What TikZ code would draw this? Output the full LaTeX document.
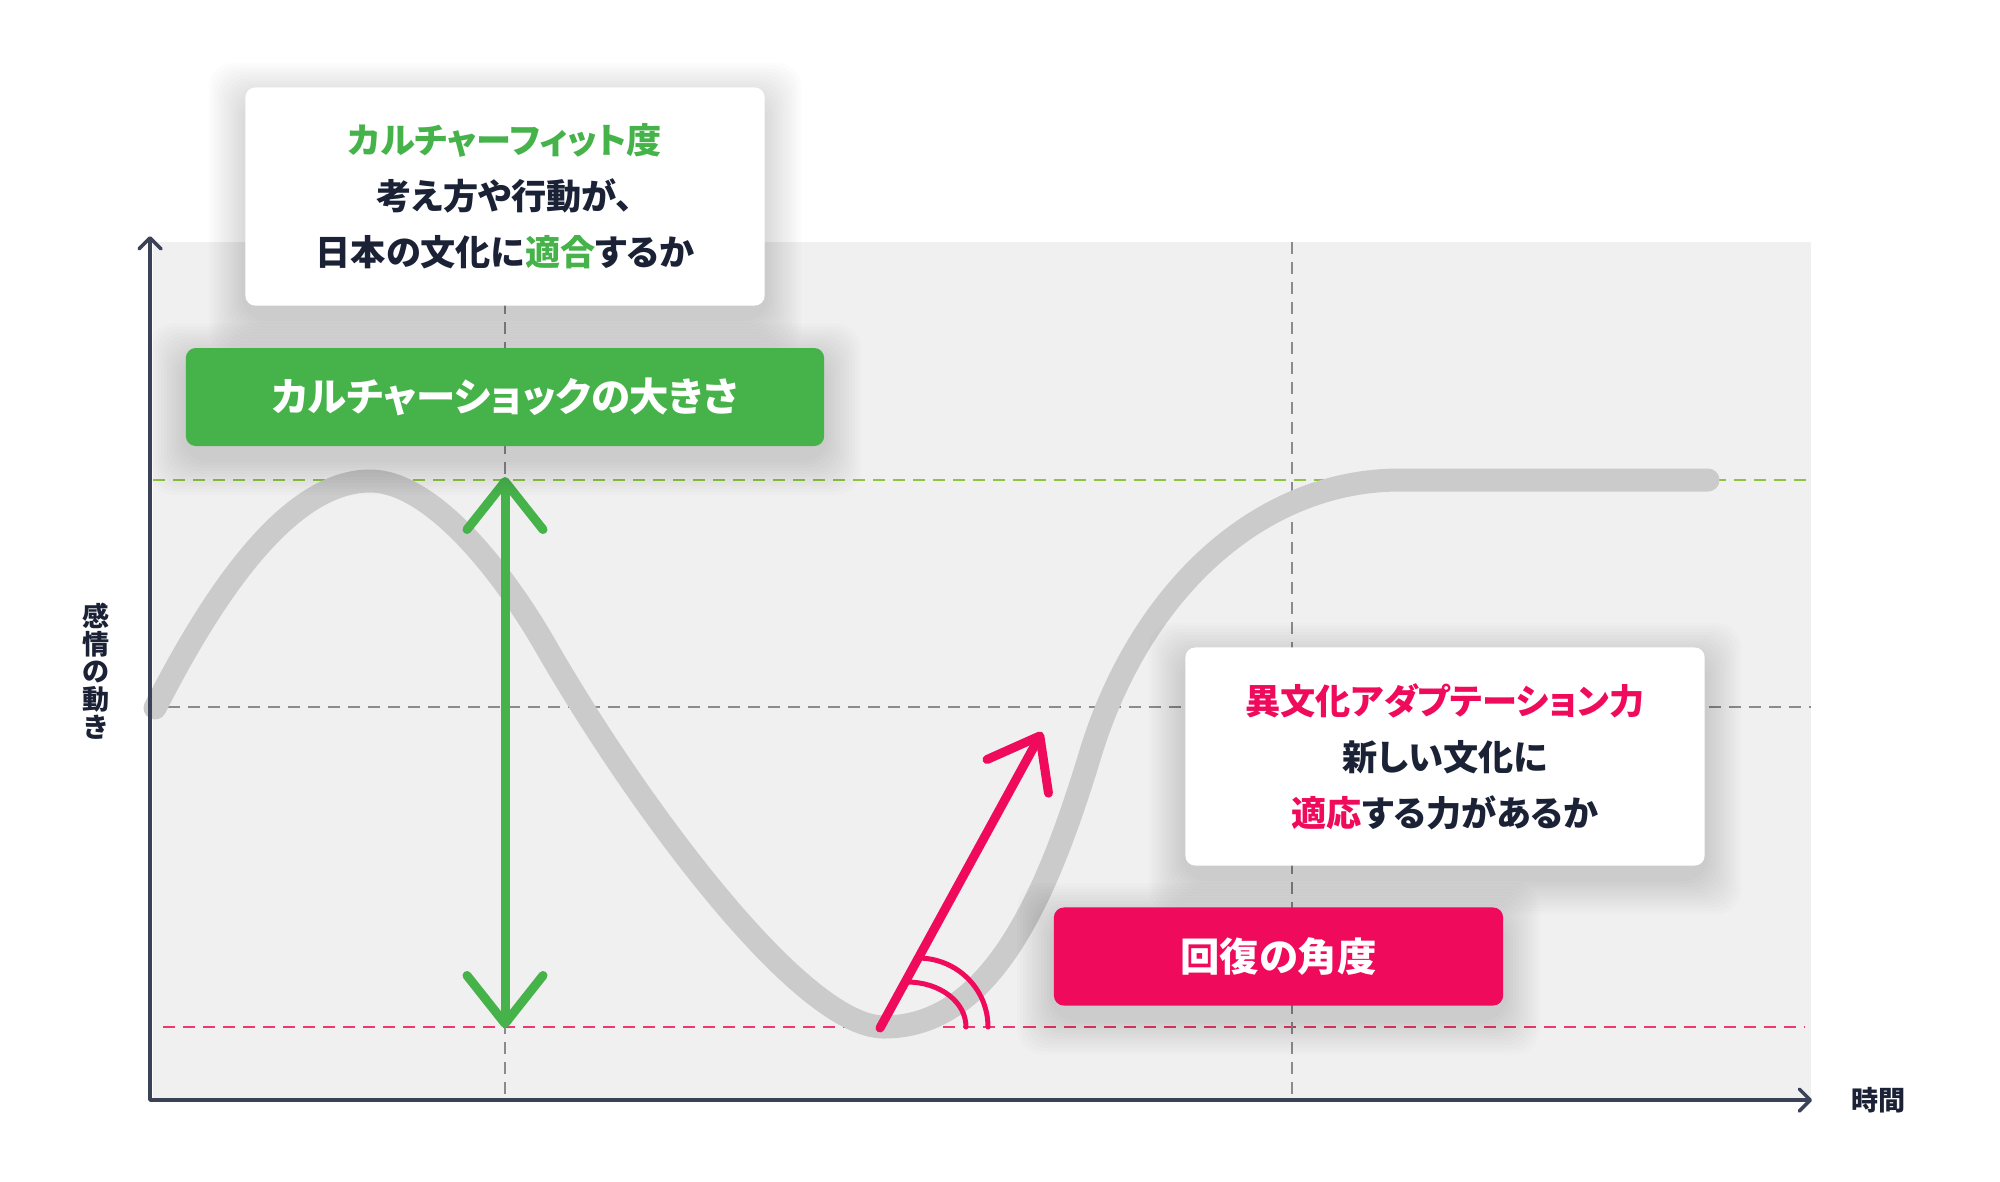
\documentclass[tikz,border=0pt]{standalone}
\usepackage{fontspec}
\setmainfont{Noto Sans CJK JP}[RawFeature=+palt]
\usetikzlibrary{arrows.meta,positioning}
\pgfdeclarelayer{shade}
\pgfdeclarelayer{front}
\pgfsetlayers{main,shade,front}
\definecolor{fitgreen}{HTML}{46B34A}
\definecolor{adaptpink}{HTML}{EF0A5B}
\definecolor{inkdark}{HTML}{1B2236}
\definecolor{axisgray}{HTML}{3B4257}
\definecolor{panelgray}{HTML}{F0F0F0}
\definecolor{curvegray}{HTML}{CBCBCB}
\definecolor{guidegray}{HTML}{8A8A90}
\definecolor{guidegreen}{HTML}{8DC540}
\definecolor{guidepink}{HTML}{EC3A6E}
\tikzset{
infobox/.style={fill=white,rounded corners=0.1cm,minimum width=5.19cm,minimum height=2.18cm,align=center,inner sep=0pt,text=inkdark,font=\fontsize{10}{15.9}\selectfont\bfseries},
tagbox/.style={rounded corners=0.1cm,minimum height=0.98cm,inner sep=0pt,text=white,font=\fontsize{11.2}{13}\selectfont\bfseries},
softshade/.style={black,opacity=0.011,rounded corners=0.25cm},
axisline/.style={axisgray,line width=1pt,line join=round,{Straight Barb[round,length=1.1mm,width=2.2mm]}-{Straight Barb[round,length=1.1mm,width=2.2mm]}},
guide/.style={line width=0.6pt,dash pattern=on 0.12cm off 0.08cm},
curveline/.style={curvegray,line width=0.23cm,line cap=round,line join=round},
shockarrow/.style={fitgreen,line width=0.09cm,{Straight Barb[round,length=4.8mm,width=7.6mm]}-{Straight Barb[round,length=4.8mm,width=7.6mm]}},
anglearrow/.style={adaptpink,line width=0.09cm,line cap=round,-{Straight Barb[round,length=4.6mm,width=7mm]}},
anglearc/.style={adaptpink,line width=0.05cm,line cap=round},
axislabel/.style={inner sep=0pt,text=inkdark,font=\fontsize{7.7}{7.9}\selectfont\bfseries,align=center}
}
\begin{document}
\begin{tikzpicture}[x=0.01cm,y=-0.01cm]
\useasboundingbox (0,0) rectangle (2000,1181);
\fill[panelgray] (153,242) rectangle (1811,1100);
\draw[guide,guidegreen] (153,480) -- (1811,480);
\draw[guide,guidegray] (168,707) -- (1811,707);
\draw[guide,guidepink] (163,1027) -- (1805,1027);
\draw[guide,guidegray] (505,242) -- (505,1100);
\draw[guide,guidegray] (1292,242) -- (1292,1100);
\draw[curveline] (155,708) .. controls (215,590) and (290,481) .. (370,481)
  .. controls (430,481) and (500,567) .. (545,645)
  .. controls (635,802) and (800,1027) .. (884,1027)
  .. controls (990,1027) and (1046,900) .. (1090,755)
  .. controls (1140,590) and (1260,480) .. (1400,480) -- (1708,480);
\coordinate (origin) at (150,1100);
\coordinate (ytip) at (150,236);
\coordinate (xtip) at (1812,1100);
\coordinate (ymid) at (150,671);
\draw[axisline] (ytip) -- (origin) -- (xtip);
\coordinate (shocktop) at (505,477);
\coordinate (shockbottom) at (505,1028);
\draw[shockarrow] (shocktop) -- (shockbottom);
\coordinate (anglebase) at (880,1028);
\coordinate (angletip) at (1042,732);
\draw[anglearrow] (anglebase) -- (angletip);
\draw[anglearc] (907,982) .. controls +(33,0) and +(0,-25) .. (966,1027);
\draw[anglearc] (918,958) .. controls +(39,0) and +(0,-38) .. (988,1027);
\begin{pgfonlayer}{front}
\node[infobox] (fitbox) at (505,196.5) {{\color{fitgreen}カルチャーフィット度}\\考え方や行動が、\\日本の文化に{\color{fitgreen}適合}するか};
\node[tagbox,fill=fitgreen,minimum width=6.38cm,below=0.41cm of fitbox] (shockbox) {カルチャーショックの大きさ};
\node[infobox] (adaptbox) at (1445,756.5) {{\color{adaptpink}異文化アダプテーション力}\\新しい文化に\\{\color{adaptpink}適応}する力があるか};
\node[tagbox,fill=adaptpink,minimum width=4.49cm] (anglebox) at (1278.5,956.5) {回復の角度};
\end{pgfonlayer}
\begin{pgfonlayer}{shade}
\foreach \boxname in {fitbox,shockbox,adaptbox,anglebox}
  \foreach \s in {1,...,12}
    \fill[softshade] ([shift={(-\s*3,-\s*3+12)}]\boxname.north west) rectangle ([shift={(\s*3,\s*3+12)}]\boxname.south east);
\end{pgfonlayer}
\node[axislabel,left=0.4cm of ymid] (emolbl) {感\\情\\の\\動\\き};
\node[axislabel,right=0.39cm of xtip] (timelbl) {時間};
\end{tikzpicture}
\end{document}
